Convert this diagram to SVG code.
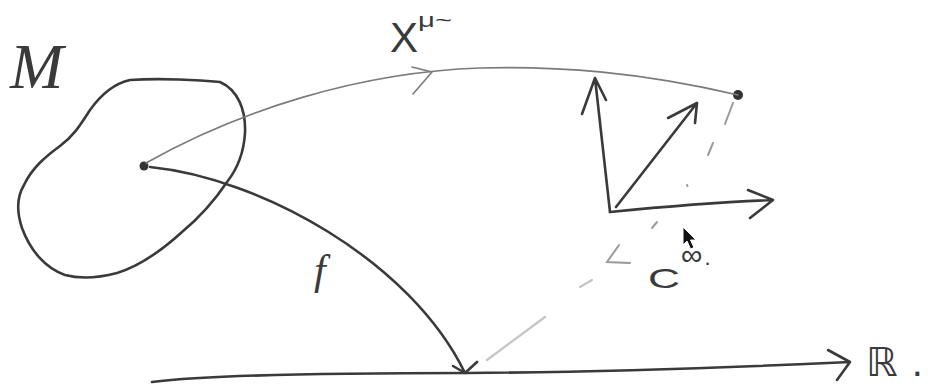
<svg xmlns="http://www.w3.org/2000/svg" width="942" height="387" viewBox="0 0 942 387">
<style>
.ink{fill:none;stroke:#3a3a3a;stroke-width:2.6;stroke-linecap:round;stroke-linejoin:round}
.thin{fill:none;stroke:#7a7a7a;stroke-width:1.6;stroke-linecap:round;stroke-linejoin:round}
.dash{fill:none;stroke:#9a9a9a;stroke-width:2;stroke-linecap:round}
.faint{fill:none;stroke:#c4c4c4;stroke-width:2.2;stroke-linecap:round}
.lbl{fill:#3a3a3a;font-family:"Liberation Sans","DejaVu Sans",sans-serif}
.ser{fill:#3a3a3a;font-family:"Liberation Serif","DejaVu Serif",serif;font-style:italic}
</style>
<rect width="942" height="387" fill="#ffffff"/>

<g id="manifold">
  <path class="ink" d="M130,80 C160,78 200,80 220,82 C238,90 246,110 245,133 C244,150 238,168 227,182 C215,200 200,217 182,232 C160,252 140,266 117,273 C98,278 80,279 65,275 C45,268 30,250 22,228 C16,210 18,195 24,185 C32,168 45,157 60,146 C75,135 82,122 90,110 C100,96 112,84 130,80 Z"/>
  <text class="ser" x="10" y="88" font-size="64">M</text>
</g>

<g id="point-p">
  <circle cx="144" cy="166" r="4.5" fill="#333"/>
</g>

<g id="point-q">
  <circle cx="738" cy="95" r="5" fill="#333"/>
</g>

<g id="tangent-vectors">
  <path class="ink" d="M610,212 L595,78 M582,114 L595,78 L606,100"/>
  <path class="ink" d="M610,212 C670,206 720,202 773,200 M748,190 L773,200 L750,218"/>
  <path class="ink" d="M616,207 L697,103 M668,118 L697,103 L695,123"/>
</g>

<g id="real-line">
  <path class="ink" d="M152,382 C200,376 300,373 467,373 C600,372 720,368 850,362 M828,350 L850,362 L837,380"/>
  <text class="lbl" x="866" y="376" font-size="40" font-family="DejaVu Sans, sans-serif">ℝ<tspan dx="14">.</tspan></text>
</g>

<g id="connectors">
  <path class="thin" d="M146,163 C240,110 360,72 480,68 C560,66 640,72 738,95"/>
  <path class="thin" d="M412,67 L432,72 L413,94"/>
  <text class="lbl" x="390" y="52" font-size="42" font-weight="300" fill="#555">X</text>
  <text class="lbl" x="418" y="27" font-size="20" textLength="34" lengthAdjust="spacingAndGlyphs" fill="#555">μ~</text>

  <path class="ink" d="M150,167 C260,178 410,260 465,373 M453,366 L465,373 L477,362"/>
  <text class="ser" x="314" y="284" font-size="42">f</text>

  <path class="dash" d="M733,103 L725,124 M713,143 L708,155 M687,185 L687.5,186 M657,222 L652,228"/>
  <path class="dash" d="M619,245 L607,262 L630,263"/>
  <path class="faint" d="M592,280 L580,287 M545,317 L487,360"/>
  <text class="lbl" x="648" y="288" font-size="28" textLength="32" lengthAdjust="spacingAndGlyphs" fill="#444">C</text>
  <text class="lbl" x="681" y="265" font-size="30" fill="#555">∞<tspan dx="2" font-size="22">.</tspan></text>
</g>

<g id="cursor">
  <path d="M683,227 L683,245 L687,241 L690.5,249 L694,247.5 L690.5,240 L696,240 Z" fill="#111" stroke="#fff" stroke-width="1"/>
</g>
</svg>
